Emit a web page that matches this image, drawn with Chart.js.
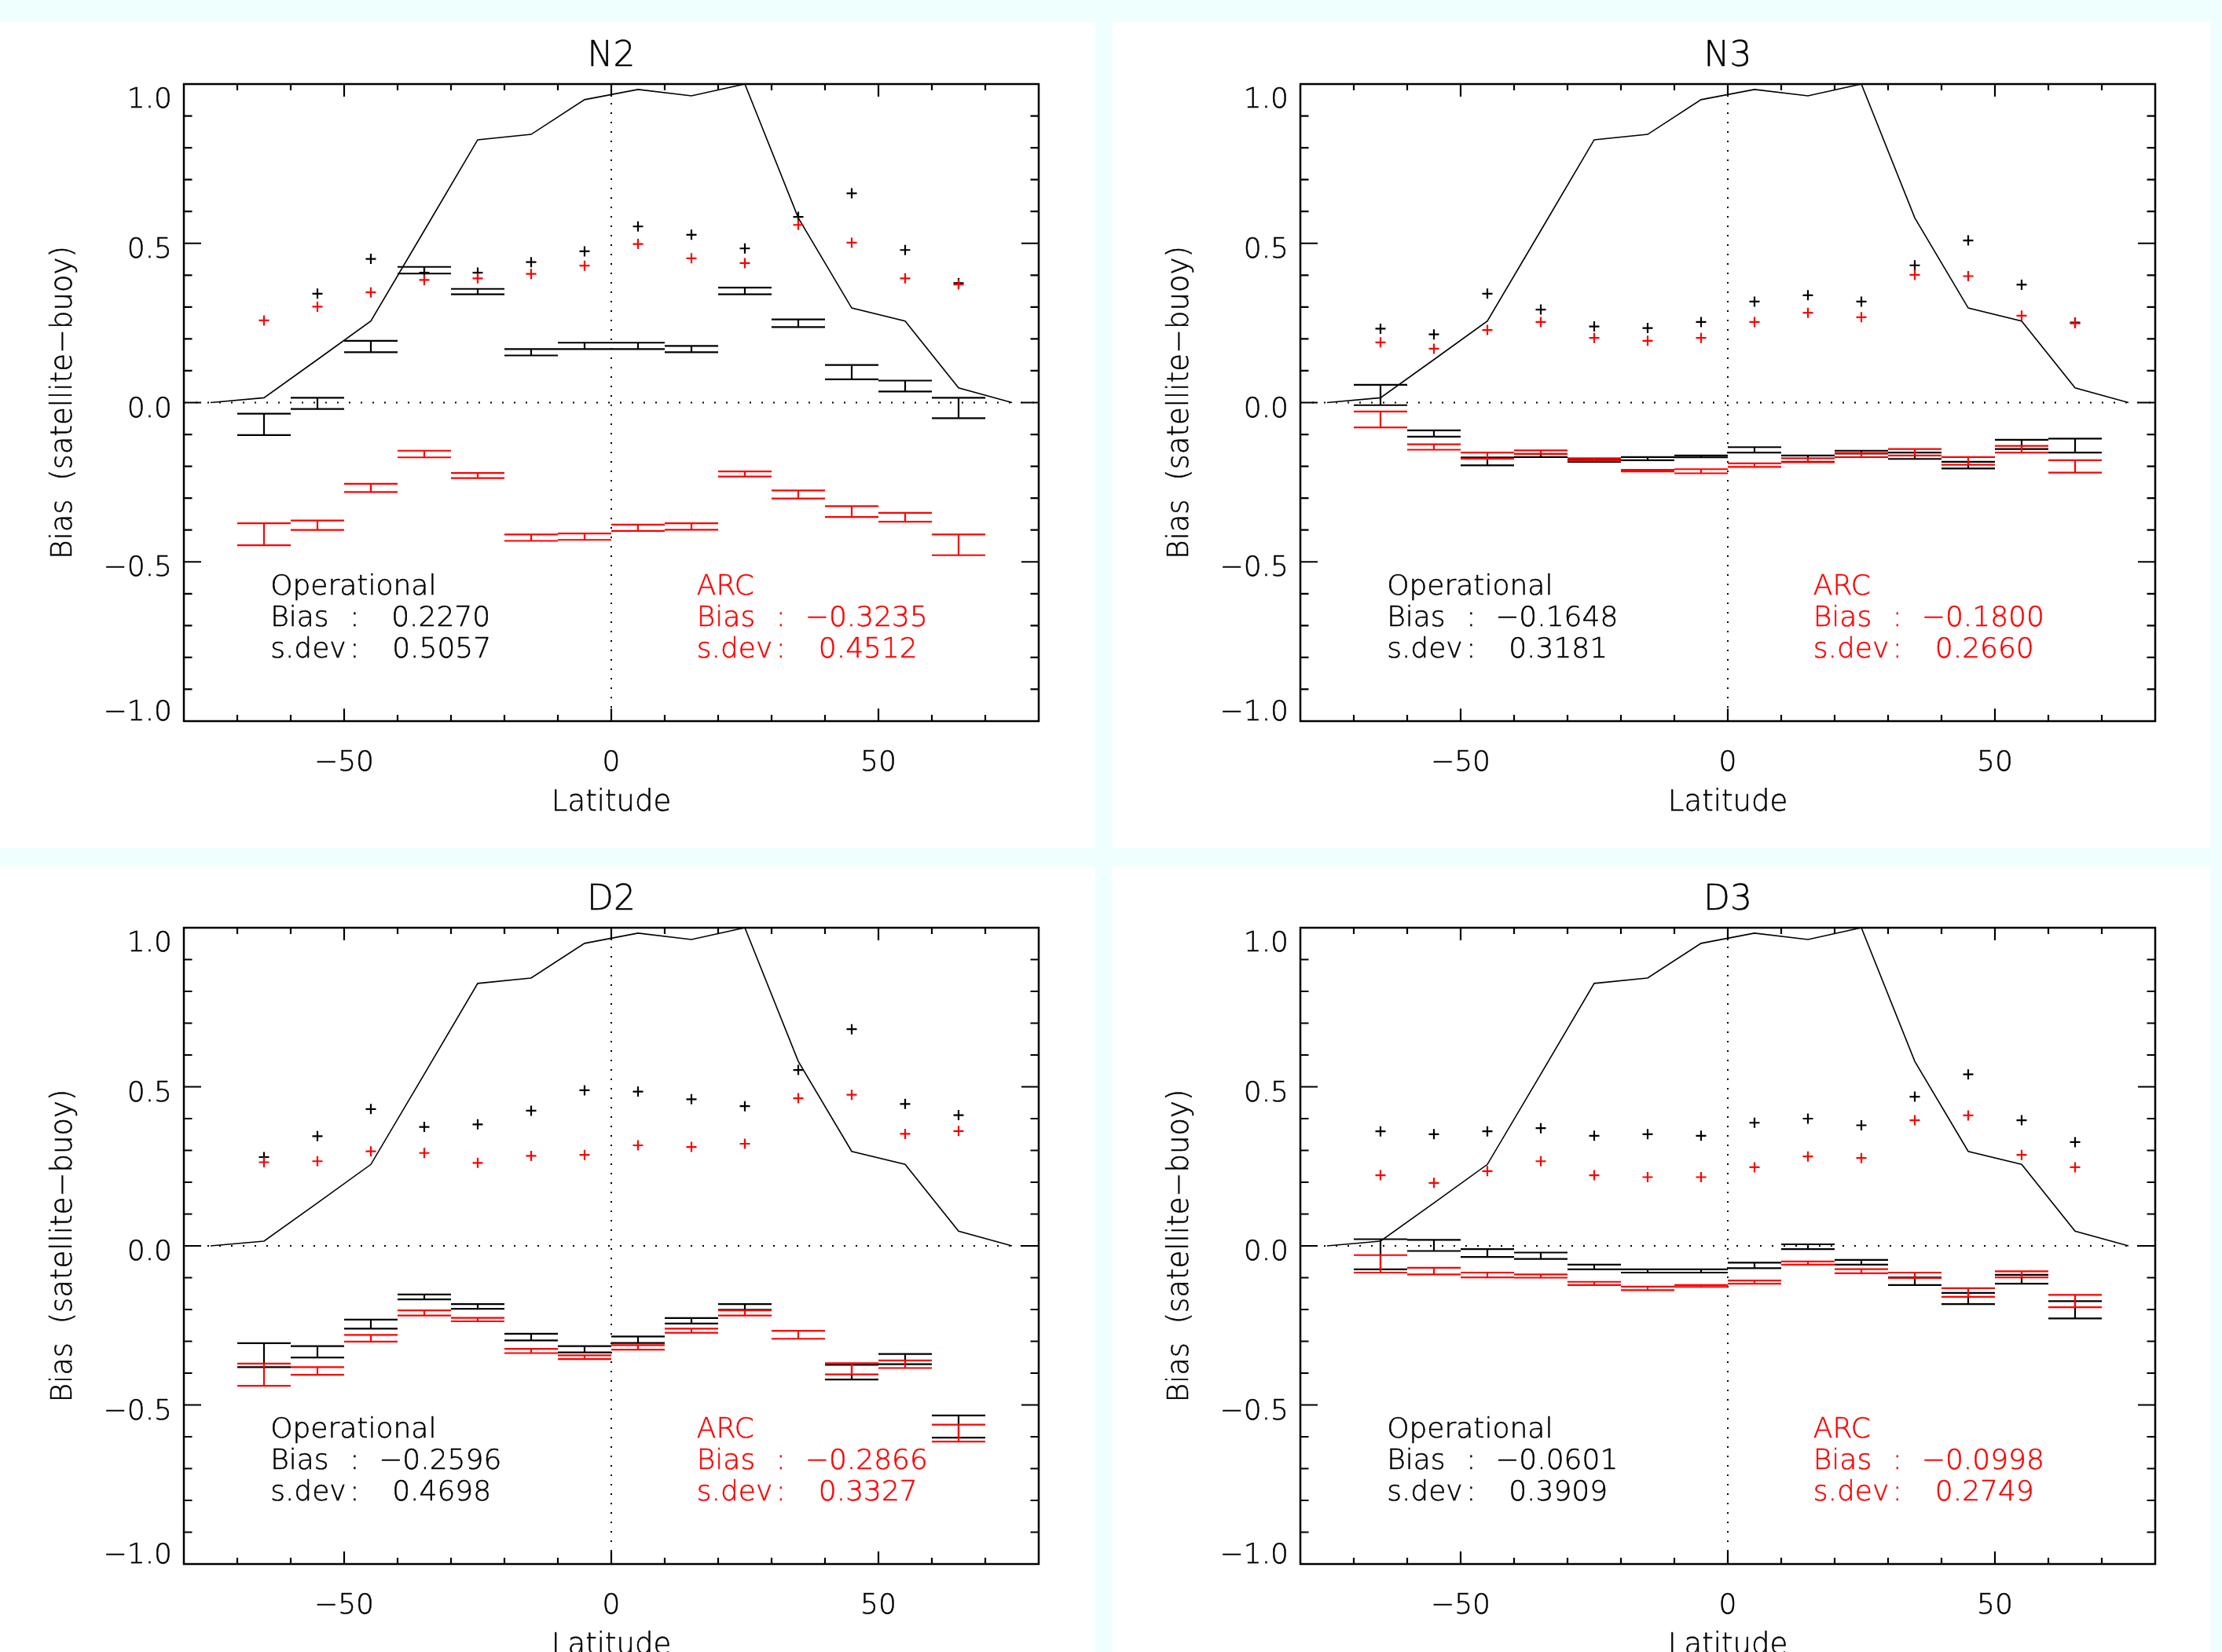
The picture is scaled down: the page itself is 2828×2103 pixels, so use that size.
<!DOCTYPE html>
<html>
<head>
<meta charset="utf-8">
<script src="https://cdn.jsdelivr.net/npm/chart.js@4.4.1/dist/chart.umd.min.js"></script>
<style>
html,body{margin:0;padding:0;background:#effffe;}
body{width:2828px;height:2103px;position:relative;overflow:hidden;}
.panel{position:absolute;background:#ffffff;overflow:hidden;}
canvas{display:block;}
</style>
</head>
<body>
<div class="panel" style="left:0px;top:28px;width:1394px;height:1052px"><canvas id="c0" width="1394" height="1052"></canvas></div>
<div class="panel" style="left:1415px;top:28px;width:1398px;height:1052px"><canvas id="c1" width="1398" height="1052"></canvas></div>
<div class="panel" style="left:0px;top:1103px;width:1394px;height:1000px"><canvas id="c2" width="1394" height="1000"></canvas></div>
<div class="panel" style="left:1415px;top:1103px;width:1398px;height:1000px"><canvas id="c3" width="1398" height="1000"></canvas></div>
<script>
// ---------------- DATA ----------------
const panelTitles = ['N2', 'N3', 'D2', 'D3'];
const latBins = [-65, -55, -45, -35, -25, -15, -5, 5, 15, 25, 35, 45, 55, 65];
const curveLat = [-75, -65, -55, -45, -35, -25, -15, -5, 5, 15, 25, 35, 45, 55, 65, 75];
const curveVal = [0, 0.015, 0.135, 0.256, 0.54, 0.825, 0.842, 0.951, 0.983, 0.963, 1.0, 0.58, 0.297, 0.256, 0.046, 0];

// N2
const n2OpSd  = [null, 0.342, 0.451, 0.408, 0.408, 0.441, 0.475, 0.553, 0.527, 0.484, 0.583, 0.657, 0.479, 0.375];
const n2ArcSd = [0.258, 0.301, 0.346, 0.385, 0.390, 0.404, 0.430, 0.498, 0.453, 0.438, 0.558, 0.502, 0.390, 0.371];
const n2OpHi  = [-0.035, 0.015, 0.194, 0.426, 0.357, 0.168, 0.188, 0.188, 0.178, 0.361, 0.261, 0.118, 0.069, 0.015];
const n2OpLo  = [-0.102, -0.020, 0.158, 0.405, 0.340, 0.148, 0.168, 0.168, 0.158, 0.340, 0.237, 0.073, 0.035, -0.049];
const n2ArcHi = [-0.379, -0.370, -0.255, -0.151, -0.221, -0.414, -0.411, -0.383, -0.379, -0.216, -0.276, -0.325, -0.346, -0.414];
const n2ArcLo = [-0.448, -0.400, -0.281, -0.172, -0.237, -0.434, -0.431, -0.403, -0.399, -0.232, -0.301, -0.359, -0.374, -0.479];

// N3
const n3OpSd  = [0.232, 0.214, 0.342, 0.292, 0.239, 0.234, 0.253, 0.317, 0.337, 0.317, 0.431, 0.509, 0.370, 0.251];
const n3ArcSd = [0.189, 0.169, 0.228, 0.253, 0.203, 0.194, 0.203, 0.253, 0.282, 0.268, 0.401, 0.397, 0.273, 0.249];
const n3OpHi  = [0.056, -0.087, -0.172, -0.161, -0.178, -0.171, -0.166, -0.140, -0.166, -0.151, -0.157, -0.186, -0.117, -0.113];
const n3OpLo  = [-0.008, -0.107, -0.197, -0.171, -0.186, -0.181, -0.172, -0.157, -0.186, -0.160, -0.177, -0.207, -0.146, -0.157];
const n3ArcHi = [-0.028, -0.131, -0.157, -0.150, -0.175, -0.211, -0.209, -0.191, -0.175, -0.158, -0.146, -0.171, -0.136, -0.181];
const n3ArcLo = [-0.078, -0.148, -0.176, -0.161, -0.183, -0.216, -0.222, -0.202, -0.187, -0.171, -0.166, -0.195, -0.157, -0.220];

// D2
const d2OpSd  = [0.279, 0.345, 0.430, 0.374, 0.382, 0.425, 0.489, 0.485, 0.461, 0.439, 0.553, 0.681, 0.446, 0.411];
const d2ArcSd = [0.263, 0.266, 0.297, 0.292, 0.261, 0.283, 0.286, 0.316, 0.311, 0.321, 0.464, 0.475, 0.352, 0.361];
const d2OpHi  = [-0.306, -0.315, -0.232, -0.153, -0.183, -0.276, -0.315, -0.285, -0.227, -0.183, null, -0.374, -0.340, -0.533];
const d2OpLo  = [-0.381, -0.351, -0.260, -0.168, -0.198, -0.297, -0.335, -0.305, -0.244, -0.201, null, -0.420, -0.372, -0.603];
const d2ArcHi = [-0.370, -0.381, -0.280, -0.203, -0.226, -0.324, -0.344, -0.312, -0.260, -0.203, -0.267, -0.369, -0.360, -0.562];
const d2ArcLo = [-0.440, -0.405, -0.301, -0.219, -0.237, -0.337, -0.356, -0.326, -0.273, -0.219, -0.292, -0.404, -0.384, -0.615];

// D3
const d3OpSd  = [0.360, 0.351, 0.360, 0.370, 0.346, 0.351, 0.346, 0.387, 0.400, 0.379, 0.469, 0.539, 0.395, 0.326];
const d3ArcSd = [0.222, 0.198, 0.235, 0.266, 0.222, 0.216, 0.216, 0.247, 0.281, 0.276, 0.395, 0.410, 0.286, 0.247];
const d3OpHi  = [0.021, 0.019, -0.010, -0.021, -0.059, -0.074, -0.074, -0.053, 0.005, -0.044, -0.099, -0.148, -0.091, -0.174];
const d3OpLo  = [-0.074, -0.016, -0.035, -0.041, -0.074, -0.084, -0.084, -0.070, -0.010, -0.059, -0.123, -0.183, -0.119, -0.228];
const d3ArcHi = [-0.029, -0.069, -0.084, -0.090, -0.113, -0.128, -0.123, -0.109, -0.049, -0.073, -0.084, -0.133, -0.080, -0.154];
const d3ArcLo = [-0.084, -0.090, -0.099, -0.100, -0.123, -0.139, -0.129, -0.119, -0.059, -0.086, -0.101, -0.160, -0.099, -0.193];

// summary statistics
const opBias  = [0.2270, -0.1648, -0.2596, -0.0601];
const opSdev  = [0.5057, 0.3181, 0.4698, 0.3909];
const arcBias = [-0.3235, -0.1800, -0.2866, -0.0998];
const arcSdev = [0.4512, 0.2660, 0.3327, 0.2749];

// axes
const xTickVals  = [-70, -60, -50, -40, -30, -20, -10, 0, 10, 20, 30, 40, 50, 60, 70];
const xLabelVals = [-50, 0, 50];
const yTickVals  = [-0.9, -0.8, -0.7, -0.6, -0.5, -0.4, -0.3, -0.2, -0.1, 0, 0.1, 0.2, 0.3, 0.4, 0.5, 0.6, 0.7, 0.8, 0.9];
const yLabelVals = [-1.0, -0.5, 0.0, 0.5, 1.0];
const xTitle = 'Latitude';
const yTitle = 'Bias  (satellite\u2212buoy)';

// ---------------- RENDERING ----------------
const panelData = [
  [n2OpSd, n2ArcSd, n2OpHi, n2OpLo, n2ArcHi, n2ArcLo],
  [n3OpSd, n3ArcSd, n3OpHi, n3OpLo, n3ArcHi, n3ArcLo],
  [d2OpSd, d2ArcSd, d2OpHi, d2OpLo, d2ArcHi, d2ArcLo],
  [d3OpSd, d3ArcSd, d3OpHi, d3OpLo, d3ArcHi, d3ArcLo]
];
const paddings = [
  {left: 234, right: 72, top: 79, bottom: 162},
  {left: 240, right: 70, top: 79, bottom: 162},
  {left: 234, right: 72, top: 78, bottom: 112},
  {left: 240, right: 70, top: 78, bottom: 112}
];
const FONT = "'DejaVu Sans', 'Liberation Sans', sans-serif";
const RED = '#ff0000', BLACK = '#000000';

function fmt(v, d) { return (v < 0 ? '\u2212' : '') + Math.abs(v).toFixed(d); }
function pts(vals) { return latBins.map((c, i) => ({x: c, y: vals[i]})); }
function barSegs(hi, lo) {
  const out = [];
  latBins.forEach((c, i) => {
    if (hi[i] == null || lo[i] == null) return;
    out.push({x: c - 5, y: hi[i]}, {x: c + 5, y: hi[i]}, {x: c + 5, y: null},
             {x: c - 5, y: lo[i]}, {x: c + 5, y: lo[i]}, {x: c + 5, y: null},
             {x: c, y: hi[i]}, {x: c, y: lo[i]}, {x: c, y: null});
  });
  return out;
}
function txt(ctx, s, px, py) {
  ctx.fillText(s, px, py);
  ctx.strokeText(s, px, py);
}

const idlPlugin = {
  id: 'idl',
  beforeDatasetsDraw(chart) {
    const {ctx, chartArea: a, scales: {x, y}} = chart;
    ctx.save();
    ctx.strokeStyle = BLACK;
    ctx.lineWidth = 2;
    ctx.setLineDash([2, 13]);
    const y0 = y.getPixelForValue(0);
    ctx.beginPath(); ctx.moveTo(a.left, y0); ctx.lineTo(a.right, y0); ctx.stroke();
    ctx.setLineDash([2, 10]);
    const x0 = x.getPixelForValue(0);
    ctx.beginPath(); ctx.moveTo(x0, a.top); ctx.lineTo(x0, a.bottom); ctx.stroke();
    ctx.restore();
  },
  afterDraw(chart, args, opts) {
    const {ctx, chartArea: a, scales: {x, y}} = chart;
    const k = opts.index;
    ctx.save();
    ctx.setLineDash([]);
    ctx.strokeStyle = BLACK;
    ctx.lineWidth = 2.5;
    ctx.strokeRect(a.left, a.top, a.right - a.left, a.bottom - a.top);
    ctx.lineWidth = 2.2;
    ctx.beginPath();
    xTickVals.forEach(v => {
      const px = x.getPixelForValue(v);
      const len = xLabelVals.includes(v) ? 16 : 8;
      ctx.moveTo(px, a.bottom); ctx.lineTo(px, a.bottom - len);
      ctx.moveTo(px, a.top); ctx.lineTo(px, a.top + len);
    });
    yTickVals.forEach(v => {
      const py = y.getPixelForValue(v);
      const major = Math.abs(v * 2 - Math.round(v * 2)) < 1e-9;
      const len = major ? 22 : 10.5;
      ctx.moveTo(a.left, py); ctx.lineTo(a.left + len, py);
      ctx.moveTo(a.right, py); ctx.lineTo(a.right - len, py);
    });
    ctx.stroke();

    ctx.fillStyle = BLACK;
    ctx.strokeStyle = BLACK;
    ctx.lineWidth = 0.5;
    ctx.font = '200 36px ' + FONT;
    ctx.textBaseline = 'alphabetic';
    ctx.textAlign = 'center';
    xLabelVals.forEach(v => {
      txt(ctx, fmt(v, 0), x.getPixelForValue(v), a.bottom + 63);
    });
    ctx.textAlign = 'right';
    yLabelVals.forEach(v => {
      let py = y.getPixelForValue(v) + 18;
      if (v === 1) py = y.getPixelForValue(v) + 30;
      if (v === -1) py = y.getPixelForValue(v) - 1;
      txt(ctx, fmt(v, 1), a.left - 15, py);
    });
    const cx = (a.left + a.right) / 2;
    ctx.textAlign = 'center';
    ctx.font = '200 44px ' + FONT;
    txt(ctx, panelTitles[k], cx, a.top - 23);
    ctx.font = '200 37px ' + FONT;
    txt(ctx, xTitle, cx, a.bottom + 114);
    ctx.save();
    ctx.translate(a.left - 153, (a.top + a.bottom) / 2);
    ctx.rotate(-Math.PI / 2);
    ctx.textBaseline = 'middle';
    txt(ctx, yTitle, 0, 0);
    ctx.restore();

    // statistics text
    ctx.font = '200 36px ' + FONT;
    ctx.textAlign = 'left';
    ctx.textBaseline = 'alphabetic';
    const rows = [y.getPixelForValue(-0.603), y.getPixelForValue(-0.702), y.getPixelForValue(-0.801)];
    const blocks = [
      {name: 'Operational', lat: -63.8, bias: opBias[k], sdev: opSdev[k], color: BLACK},
      {name: 'ARC', lat: 16.0, bias: arcBias[k], sdev: arcSdev[k], color: RED}
    ];
    blocks.forEach(b => {
      const lx = x.getPixelForValue(b.lat);
      ctx.fillStyle = b.color;
      ctx.strokeStyle = b.color;
      txt(ctx, b.name, lx, rows[0]);
      txt(ctx, 'Bias', lx, rows[1]);
      txt(ctx, ':', lx + 101, rows[1]);
      txt(ctx, 's.dev', lx, rows[2]);
      txt(ctx, ':', lx + 101, rows[2]);
      if (b.bias < 0) txt(ctx, fmt(b.bias, 4), lx + 138, rows[1]);
      else txt(ctx, fmt(b.bias, 4), lx + 154, rows[1]);
      txt(ctx, fmt(b.sdev, 4), lx + 155, rows[2]);
    });
    ctx.restore();
  }
};

panelData.forEach((d, k) => {
  const [opSd, arcSd, opHi, opLo, arcHi, arcLo] = d;
  const crossStyle = (color) => ({
    type: 'scatter', showLine: false,
    pointStyle: 'cross', pointRadius: 6.5, pointHoverRadius: 6.5,
    pointBorderWidth: 2.2, borderWidth: 2.2,
    pointBorderColor: color, borderColor: color, backgroundColor: color
  });
  const barStyle = (color) => ({
    type: 'line', borderColor: color, borderWidth: 2.2, pointRadius: 0,
    spanGaps: false, tension: 0, fill: false
  });
  new Chart(document.getElementById('c' + k), {
    type: 'line',
    data: {
      datasets: [
        Object.assign({label: 'ARC s.dev', data: pts(arcSd), order: 0}, crossStyle(RED)),
        Object.assign({label: 'ARC bias', data: barSegs(arcHi, arcLo), order: 1}, barStyle(RED)),
        Object.assign({label: 'Operational s.dev', data: pts(opSd), order: 2}, crossStyle(BLACK)),
        Object.assign({label: 'Operational bias', data: barSegs(opHi, opLo), order: 3}, barStyle(BLACK)),
        {label: 'Coverage', type: 'line', data: curveLat.map((c, i) => ({x: c, y: curveVal[i]})),
         borderColor: BLACK, borderWidth: 1.6, pointRadius: 0, tension: 0, fill: false, order: 4}
      ]
    },
    options: {
      responsive: false,
      animation: false,
      events: [],
      layout: {padding: paddings[k]},
      scales: {
        x: {type: 'linear', min: -80, max: 80, display: false},
        y: {type: 'linear', min: -1, max: 1, display: false}
      },
      plugins: {
        legend: {display: false},
        tooltip: {enabled: false},
        idl: {index: k}
      }
    },
    plugins: [idlPlugin]
  });
});
</script>
</body>
</html>
